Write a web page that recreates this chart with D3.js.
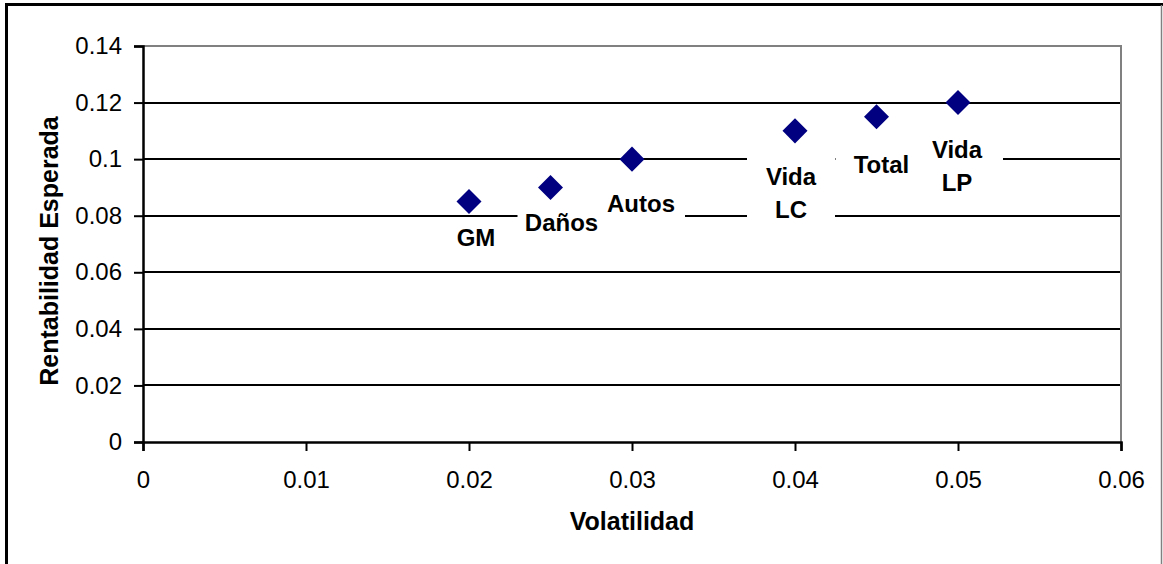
<!DOCTYPE html>
<html>
<head>
<meta charset="utf-8">
<title>Rentabilidad vs Volatilidad</title>
<script src="https://cdn.jsdelivr.net/npm/d3@7"></script>
<style>
  body { margin: 0; background: #fff; }
</style>
</head>
<body>
<script>
    // data
    var names = ["GM", "Daños", "Autos", "Vida LC", "Total", "Vida LP"];
    var volatility = [0.02, 0.025, 0.03, 0.04, 0.045, 0.05];
    var expReturn = [0.085, 0.09, 0.1, 0.11, 0.115, 0.12];
    var xTicks = [0, 0.01, 0.02, 0.03, 0.04, 0.05, 0.06];
    var yTicks = [0, 0.02, 0.04, 0.06, 0.08, 0.1, 0.12, 0.14];

    var font = "'Liberation Sans', Arial, sans-serif";
    var width = 1163, height = 564;
    var plot = {left: 143, top: 46, right: 1121, bottom: 442};

    var svg = d3.select("body").append("svg")
        .attr("width", width)
        .attr("height", height)
        .attr("font-family", font);

    // outer chart frame
    svg.append("line").attr("x1", 5).attr("x2", 1163).attr("y1", 4.5).attr("y2", 4.5)
        .attr("stroke", "#000").attr("stroke-width", 3);
    svg.append("line").attr("x1", 6.5).attr("x2", 6.5).attr("y1", 3).attr("y2", 564)
        .attr("stroke", "#000").attr("stroke-width", 3);
    svg.append("line").attr("x1", 1161.5).attr("x2", 1161.5).attr("y1", 5).attr("y2", 564)
        .attr("stroke", "#808080").attr("stroke-width", 1.5);

    var x = d3.scaleLinear().domain([0, 0.06]).range([plot.left, plot.right]);
    var y = d3.scaleLinear().domain([0, 0.14]).range([plot.bottom, plot.top]);

    // gridlines
    svg.append("g").selectAll("line")
        .data(yTicks.filter(function(d){ return d > 0 && d < 0.14; }))
        .enter().append("line")
        .attr("x1", plot.left).attr("x2", plot.right)
        .attr("y1", function(d){ return Math.round(y(d)); })
        .attr("y2", function(d){ return Math.round(y(d)); })
        .attr("stroke", "#000").attr("stroke-width", 2);

    // plot area border (top / right)
    svg.append("path")
        .attr("d", "M" + plot.left + "," + plot.top + "H" + plot.right + "V" + plot.bottom)
        .attr("fill", "none").attr("stroke", "#808080").attr("stroke-width", 2);

    // axes
    var fmt = function(d){ return d3.format("~g")(d); };
    var gx = svg.append("g")
        .attr("transform", "translate(0," + plot.bottom + ")")
        .call(d3.axisBottom(x).tickValues(xTicks).tickSize(9).tickPadding(20).tickFormat(fmt));
    var gy = svg.append("g")
        .attr("transform", "translate(" + plot.left + ",0)")
        .call(d3.axisLeft(y).tickValues(yTicks).tickSize(9).tickPadding(12).tickFormat(fmt));

    [gx, gy].forEach(function(g){
        g.attr("font-family", font).attr("font-size", 24);
        g.select(".domain").attr("stroke", "#000").attr("stroke-width", 2.5);
        g.selectAll(".tick line").attr("stroke", "#000").attr("stroke-width", 2);
        g.selectAll(".tick text").attr("fill", "#000");
    });

    // axis titles
    svg.append("text")
        .attr("x", (plot.left + plot.right) / 2)
        .attr("y", 530)
        .attr("text-anchor", "middle")
        .attr("font-size", 25).attr("font-weight", "bold")
        .text("Volatilidad");
    svg.append("text")
        .attr("transform", "translate(58,251) rotate(-90)")
        .attr("text-anchor", "middle")
        .attr("font-size", 25).attr("font-weight", "bold")
        .text("Rentabilidad Esperada");

    // data label placements (offset from point, in px) and line breaks
    var labelLines = [["GM"], ["Daños"], ["Autos"], ["Vida", "LC"], ["Total"], ["Vida", "LP"]];
    var labelDx = [7, 11, 9, -4, 5, -1];
    var labelDy = [36, 35, 44, 46, 48, 47];
    var boxW = [88, 88, 88, 88, 92, 92];
    var lineGap = 33;

    var labels = svg.append("g").selectAll("g")
        .data(names)
        .enter().append("g")
        .attr("transform", function(d, i){
            return "translate(" + (x(volatility[i]) + labelDx[i]) + "," + (y(expReturn[i]) + labelDy[i]) + ")";
        });

    labels.append("rect")
        .attr("x", function(d, i){ return -boxW[i] / 2; })
        .attr("y", -19)
        .attr("width", function(d, i){ return boxW[i]; })
        .attr("height", function(d, i){ return (labelLines[i].length - 1) * lineGap + 38; })
        .attr("fill", "#fff");

    labels.each(function(d, i){
        var g = d3.select(this);
        labelLines[i].forEach(function(line, k){
            g.append("text")
                .attr("x", 0)
                .attr("y", k * lineGap)
                .attr("dy", "0.36em")
                .attr("text-anchor", "middle")
                .attr("font-size", 24).attr("font-weight", "bold")
                .attr("fill", "#000")
                .text(line);
        });
    });

    // markers
    svg.append("g").selectAll("path")
        .data(names)
        .enter().append("path")
        .attr("d", d3.symbol().type(d3.symbolDiamond2).size(400))
        .attr("transform", function(d, i){
            return "translate(" + x(volatility[i]) + "," + y(expReturn[i]) + ")";
        })
        .attr("fill", "#000080");
</script>
</body>
</html>
